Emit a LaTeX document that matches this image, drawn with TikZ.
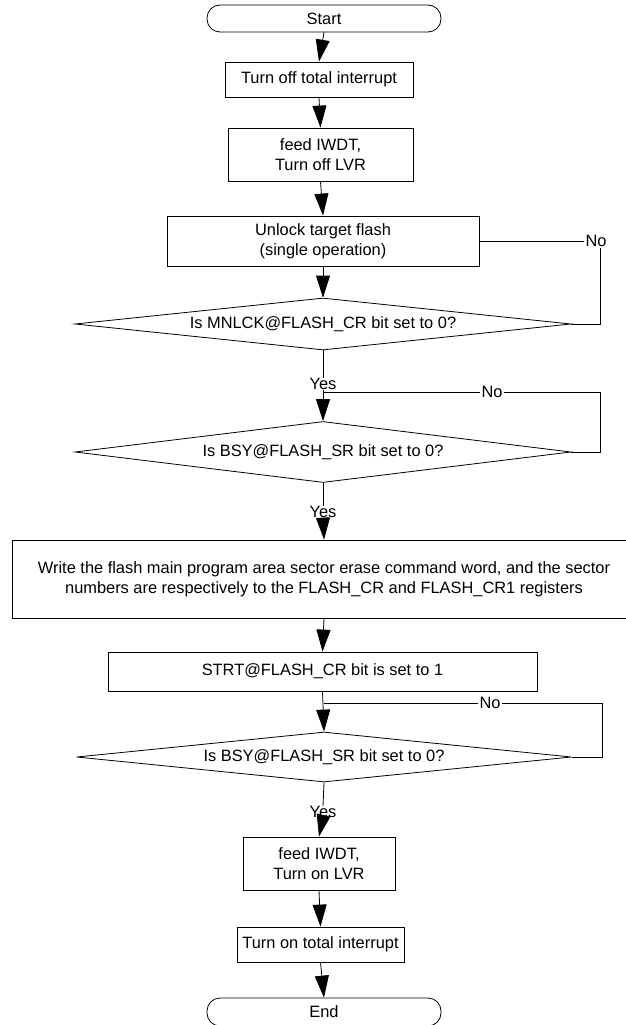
\documentclass[tikz,border=0pt]{standalone}
\usepackage{fontspec}
\setmainfont{Liberation Sans}
\usetikzlibrary{shapes.geometric,arrows.meta}
\tikzset{
  base/.style={font=\fontsize{16.4}{20}\selectfont},
  procbox/.style={base, draw, line width=0.8pt, inner sep=0pt, align=center},
  termbox/.style={procbox, rounded corners=13pt},
  decbox/.style={draw, diamond, line width=0.8pt, inner sep=0pt},
  lbl/.style={base, inner sep=0pt},
  nolbl/.style={base, inner sep=1.5pt, fill=white},
  flow/.style={line width=0.8pt, -{Triangle[length=22pt,width=14pt]}},
  link/.style={line width=0.8pt},
}
\begin{document}
\begin{tikzpicture}[x=1pt,y=-1pt]
\useasboundingbox (0,0) rectangle (625,1025);
% nodes
\node[termbox, minimum width=234pt, minimum height=27pt] (start) at (324,18.5) {Start};
\node[procbox, minimum width=188pt, minimum height=35pt] (b1) at (319,79.5) {Turn off total interrupt};
\node[procbox, minimum width=185pt, minimum height=53pt] (b2) at (320.5,154.5) {feed IWDT,\\Turn off LVR};
\node[procbox, minimum width=312pt, minimum height=50pt] (b3) at (323,241) {Unlock target flash\\(single operation)};
\node[decbox, minimum width=496pt, minimum height=52pt] (d1) at (323,324) {};
\node[lbl] (d1t) at (d1) {Is MNLCK@FLASH\_CR bit set to 0?};
\node[lbl] (yes1) at (323,384) {Yes};
\node[decbox, minimum width=496pt, minimum height=61pt] (d2) at (323,452) {};
\node[lbl] (d2t) at (d2) {Is BSY@FLASH\_SR bit set to 0?};
\node[lbl] (yes2) at (323,512) {Yes};
\node[procbox, minimum width=624pt, minimum height=78pt] (bb) at (324,579) {Write the flash main program area sector erase command word, and the sector\\numbers are respectively to the FLASH\_CR and FLASH\_CR1 registers};
\node[procbox, minimum width=429pt, minimum height=39pt] (strt) at (322.5,671.5) {STRT@FLASH\_CR bit is set to 1};
\node[decbox, minimum width=495pt, minimum height=50pt] (d3) at (324,757) {};
\node[lbl] (d3t) at (d3) {Is BSY@FLASH\_SR bit set to 0?};
\node[lbl] (yes3) at (323,812) {Yes};
\node[procbox, minimum width=152pt, minimum height=53pt] (b5) at (319,863.5) {feed IWDT,\\Turn on LVR};
\node[procbox, minimum width=167pt, minimum height=35pt] (b6) at (320.5,944.5) {Turn on total interrupt};
\node[termbox, minimum width=234pt, minimum height=28pt] (end) at (324,1012) {End};
% No labels and corner coordinates
\node[lbl, inner sep=1pt] (no1) at (596,241) {No};
\coordinate (c1) at (600,324);
\coordinate (c2) at (600,452);
\coordinate (j2) at (323,392);
\coordinate (c3) at (602,757);
\coordinate (j3) at (323.5,703);
% main flow
\draw[flow] (start.south) -- (b1.north);
\draw[flow] (b1.south) -- (b2.north);
\draw[flow] (b2.south) -- (b3.north);
\draw[flow] (b3.south) -- (d1.north);
\draw[link] (d1.south) -- (yes1.north);
\draw[flow] (yes1.south) -- (d2.north);
\draw[link] (d2.south) -- (yes2.north);
\draw[flow] (yes2.south) -- (bb.north);
\draw[flow] (bb.south) -- (strt.north);
\draw[flow] (strt.south) -- (d3.north);
\draw[link] (d3.south) -- (yes3.north);
\draw[flow] (yes3.south) -- (b5.north);
\draw[flow] (b5.south) -- (b6.north);
\draw[flow] (b6.south) -- (end.north);
% loops
\draw[link] (d1.east) -- (c1) -- (c1 |- no1.south);
\draw[link] (no1.west) -- (b3.east);
\draw[link] (d2.east) -- (c2) -- (c2 |- j2) -- (j2);
\node[nolbl] (no2) at (492,392) {No};
\draw[link] (d3.east) -- (c3) -- (c3 |- j3) -- (j3);
\node[nolbl] (no3) at (490,703) {No};
\end{tikzpicture}
\end{document}
